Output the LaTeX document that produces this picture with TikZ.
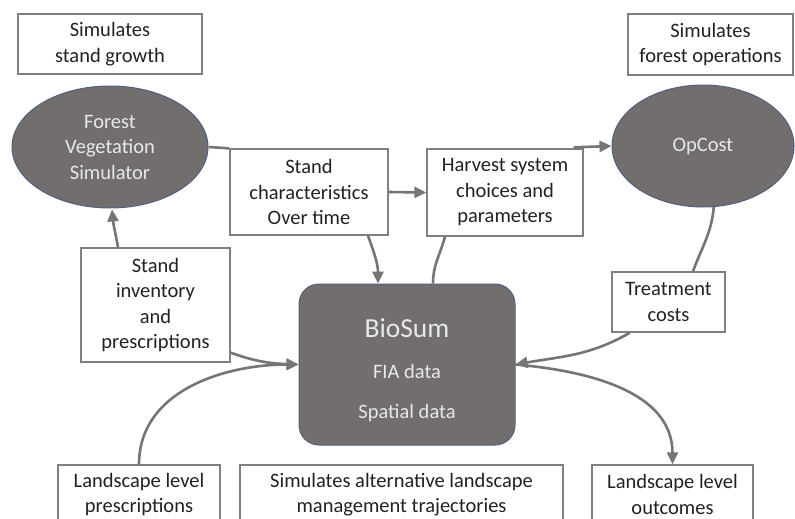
\documentclass[tikz,border=0pt]{standalone}
\usepackage{fontspec}
\setmainfont{Carlito}
\usetikzlibrary{arrows.meta,calc,shapes.geometric}
\definecolor{linegray}{RGB}{118,116,116}
\definecolor{boxgray}{RGB}{128,128,128}
\definecolor{shapefill}{RGB}{114,110,109}
\definecolor{shapeedge}{RGB}{80,96,130}
\definecolor{textdark}{RGB}{34,34,34}
\definecolor{textlight}{RGB}{232,232,232}
\newcommand\fsnorm{\fontsize{20.5}{25.5}\selectfont}
\newcommand\fsbig{\fontsize{27.5}{32}\selectfont}
\tikzset{
  box/.style={draw=boxgray, line width=1.3pt, fill=white, align=center, text=textdark, font=\fsnorm, inner sep=0pt, rectangle},
  oval/.style={ellipse, draw=shapeedge, line width=1pt, fill=shapefill, align=center, text=textlight, font=\fsnorm, inner sep=0pt},
  conn/.style={draw=linegray, line width=2.6pt},
  tipped/.style={conn, -{Triangle[length=12pt,width=11pt]}},
  lighttext/.style={text=textlight, inner sep=0pt}
}
\begin{document}
\begin{tikzpicture}[x=1pt,y=1pt]
\useasboundingbox (0,0) rectangle (795,-519);
\clip (0,0) rectangle (795,-519);
\fill[white] (0,0) rectangle (795,-519);

% top labels
\node[box, minimum width=184pt, minimum height=60pt] (growth) at (110,-44) {Simulates\\stand growth};
\node[box, minimum width=165pt, minimum height=61pt] (ops) at (710.5,-44.5) {Simulates\\forest operations};

% simulators
\node[oval, minimum width=196pt, minimum height=122pt] (fvs) at (110,-147) {Forest\\Vegetation\\Simulator};
\node[oval, minimum width=182pt, minimum height=122pt] (opcost) at (703,-146) {OpCost};

% middle boxes
\node[box, minimum width=158pt, minimum height=86pt] (char) at (309,-192) {Stand\\characteristics\\Over time};
\node[box, minimum width=156pt, minimum height=87pt] (harv) at (505,-192.5) {Harvest system\\choices and\\parameters};
\node[box, minimum width=149pt, minimum height=114pt] (inv) at (155.5,-305) {Stand\\inventory\\and\\prescriptions};
\node[box, minimum width=113pt, minimum height=60pt] (treat) at (668.5,-302) {Treatment\\costs};

% BioSum
\node[draw=shapeedge, line width=1pt, fill=shapefill, rounded corners=20pt, minimum width=216pt, minimum height=161pt, inner sep=0pt] (bio) at (407,-364.5) {};
\node[lighttext, font=\fsbig, anchor=base] (biot) at (407,-337) {BioSum};
\node[lighttext, font=\fsnorm, anchor=base] (fia) at (407,-378.5) {FIA data};
\node[lighttext, font=\fsnorm, anchor=base] (spat) at (407,-418) {Spatial data};

% bottom boxes
\node[box, minimum width=162pt, minimum height=59pt] (land) at (139,-494.5) {Landscape level\\prescriptions};
\node[box, minimum width=323pt, minimum height=59pt] (alt) at (401.5,-494.5) {Simulates alternative landscape\\management trajectories};
\node[box, minimum width=161pt, minimum height=59pt] (out) at (672.5,-494.5) {Landscape level\\outcomes};

% connectors
\draw[conn] (fvs.east) -- (char.north west);
\draw[tipped] (char.east) -- (harv.west);
\coordinate (hstart) at ($(harv.north east)+(-10,1)$);
\draw[tipped] (hstart) -- (opcost.west);
\draw[conn] (opcost.280) to[out=-95,in=70] ($(treat.north)+(24.5,0)$);
\draw[tipped] ($(treat.south)+(-38.5,0)$) to[out=-150,in=10] (bio.east);
\draw[tipped] (bio.east) to[out=-5,in=90] (out.north);
\draw[tipped] ($(char.south)+(59,0)$) to[out=-70,in=90] ($(bio.north)+(-29,0)$);
\draw[conn] ($(harv.south)+(-60,0)$) to[out=-105,in=90] ($(bio.north)+(26,0)$);
\draw[tipped] ($(inv.north)+(-37.5,0)$) to[out=100,in=-85] ($(fvs.south)+(2,-1)$);
\draw[tipped] ($(inv.south east)+(0,10)$) to[out=-20,in=178] (bio.west);
\draw[tipped] (land.north) to[out=90,in=180] (bio.west);
\end{tikzpicture}
\end{document}
